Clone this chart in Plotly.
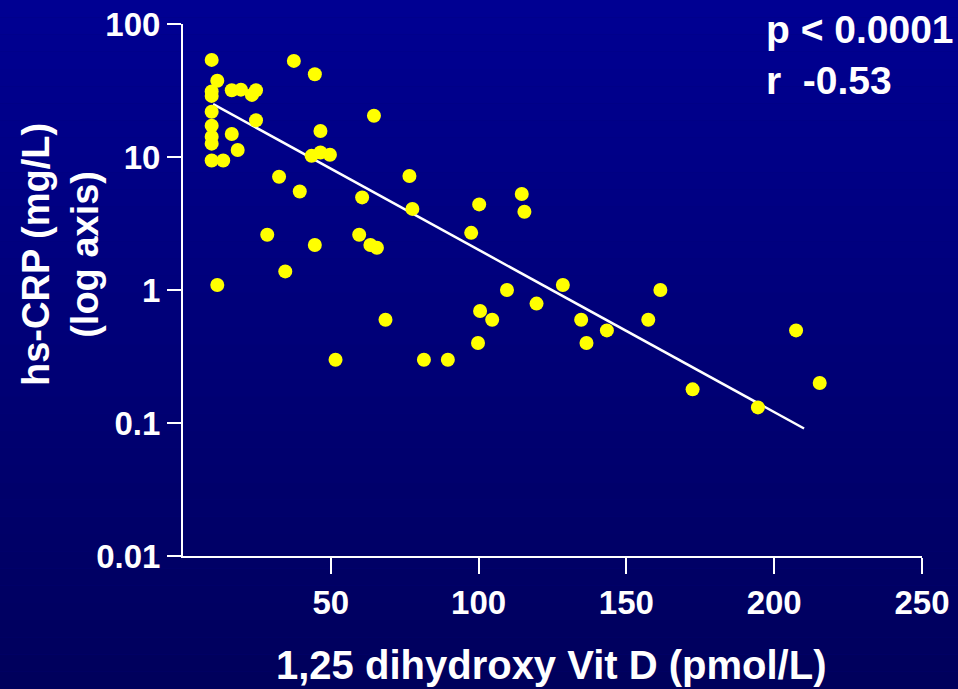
import plotly.graph_objects as go

# Data
vitd = [9.7, 11.6, 9.7, 9.7, 16.5, 19.6, 24.7, 23.3, 9.7, 9.7, 9.7, 9.7, 24.7, 16.5, 18.5,
        9.7, 13.6, 37.5, 44.6, 64.6, 46.5, 43.5, 46.5, 49.7, 32.5, 39.5, 60.6, 76.6, 77.6,
        100.2, 114.6, 115.5, 28.5, 44.6, 59.6, 63.4, 65.6, 97.5, 34.6, 11.6, 68.5, 100.5,
        99.8, 51.6, 81.5, 89.6, 104.6, 109.6, 119.6, 128.5, 134.7, 136.5, 143.4, 157.4,
        161.5, 172.4, 194.5, 207.4, 215.4]
crp = [53.7, 37.4, 31.1, 28.8, 31.8, 32.1, 31.8, 29.3, 21.9, 17.2, 14.2, 12.6, 18.9, 14.9, 11.3,
       9.4, 9.4, 52.8, 41.9, 20.4, 15.7, 10.2, 10.8, 10.4, 7.1, 5.5, 4.97, 7.2, 4.07,
       4.4, 5.27, 3.88, 2.6, 2.18, 2.6, 2.18, 2.08, 2.69, 1.38, 1.09, 0.597, 0.695,
       0.399, 0.299, 0.299, 0.299, 0.597, 1.0, 0.79, 1.09, 0.597, 0.399, 0.497, 0.597,
       1.0, 0.179, 0.131, 0.497, 0.2]
fit_x = [10.2, 210.1]
fit_y = [25.0, 0.0909]
x_ticks = [50, 100, 150, 200, 250]
y_ticks = [0.01, 0.1, 1, 10, 100]
y_tick_labels = ["0.01", "0.1", "1", "10", "100"]

FONT = "Liberation Sans, Arial, sans-serif"

fig = go.Figure()
fig.add_trace(go.Scatter(x=fit_x, y=fit_y, mode="lines",
                         line=dict(color="white", width=2.5), hoverinfo="skip"))
fig.add_trace(go.Scatter(x=vitd, y=crp, mode="markers",
                         marker=dict(color="#FFFF00", size=14, line=dict(width=0))))

# background gradient
W, H = 958, 689
L, R, T, B = 183, 36, 24, 133
ph = H - T - B
nb = 40
for i in range(nb):
    f = i / (nb - 1)
    b = int(round(92 + (146 - 92) * f))
    y0 = (H - (i * H / nb)) ; y1 = (H - ((i + 1) * H / nb))
    py0 = (H - B - y0) / ph
    py1 = (H - B - y1) / ph
    fig.add_shape(type="rect", xref="paper", yref="paper",
                  x0=-L / (W - L - R) - 0.01, x1=1 + R / (W - L - R) + 0.01,
                  y0=py1, y1=py0, fillcolor=f"rgb(0,0,{b})",
                  line=dict(width=0), layer="below")

fig.update_layout(
    width=W, height=H,
    margin=dict(l=L, r=R, t=T, b=B),
    paper_bgcolor="rgb(0,0,120)",
    plot_bgcolor="rgba(0,0,0,0)",
    showlegend=False,
    font=dict(family=FONT, color="white", size=32, weight="bold"),
    xaxis=dict(range=[0, 250], tickvals=x_ticks, ticks="outside", ticklen=16,
               tickwidth=2, tickcolor="white", showline=True, linecolor="white",
               linewidth=2, showgrid=False, zeroline=False, automargin=False,
               tickfont=dict(size=33, family=FONT, weight="bold")),
    yaxis=dict(type="log", range=[-2, 2], tickvals=y_ticks, ticktext=y_tick_labels,
               ticks="outside", ticklen=14, tickwidth=2, tickcolor="white",
               showline=True, linecolor="white", linewidth=2, showgrid=False,
               zeroline=False, automargin=False,
               tickfont=dict(size=33, family=FONT, weight="bold")),
)

fig.add_annotation(text="1,25 dihydroxy Vit D (pmol/L)", xref="paper", yref="paper",
                   x=(551 - L) / (W - L - R), y=(H - B - 665) / ph,
                   showarrow=False, font=dict(size=40, family=FONT, weight="bold"),
                   xanchor="center", yanchor="middle")
fig.add_annotation(text="hs-CRP (mg/L)<br>(log axis)", xref="paper", yref="paper",
                   x=(60 - L) / (W - L - R), y=(H - B - 255) / ph, textangle=-90,
                   showarrow=False, font=dict(size=38, family=FONT, weight="bold"),
                   xanchor="center", yanchor="middle")
fig.add_annotation(text="p < 0.0001<br>r  -0.53", xref="paper", yref="paper",
                   x=(764 - L) / (W - L - R), y=(H - B - 55) / ph, align="left",
                   showarrow=False, font=dict(size=39, family=FONT, weight="bold"),
                   xanchor="left", yanchor="middle")

fig.write_html("out.html")
